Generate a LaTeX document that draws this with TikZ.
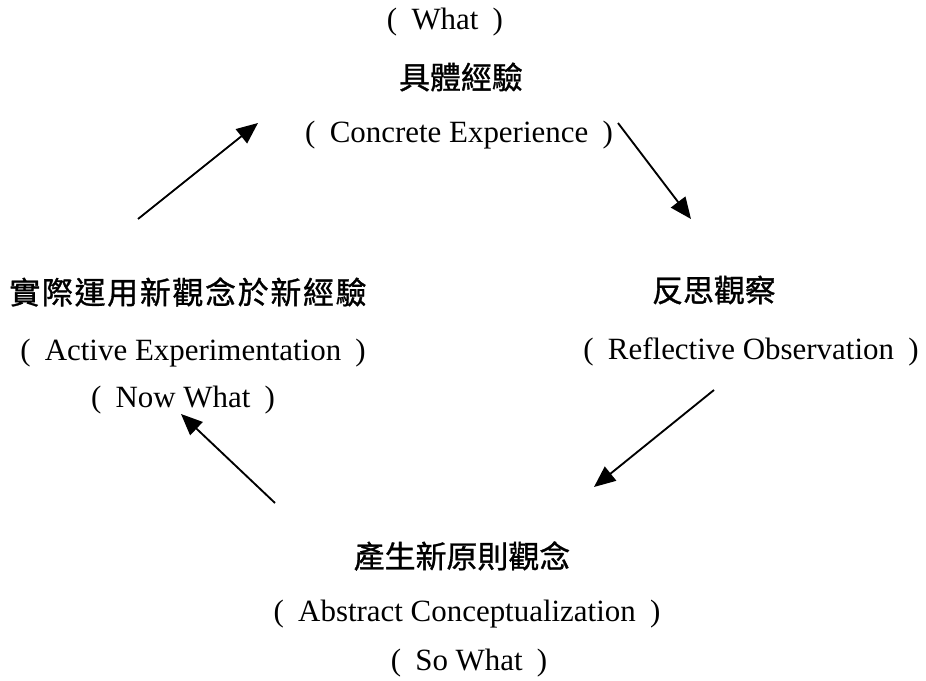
\documentclass[tikz,border=0pt]{standalone}
\usepackage{fontspec}
\setmainfont{Liberation Serif}
\newfontfamily\cjk[FakeBold=1]{Noto Sans CJK TC}
\newfontfamily\cjkwide[FakeBold=1,LetterSpace=5.5]{Noto Sans CJK TC}
\usetikzlibrary{arrows.meta}
\newcommand\wrp[1]{(\hspace{0.46em}#1\hspace{0.46em})}
\begin{document}
\begin{tikzpicture}[x=0.75pt,y=-0.75pt,
  en/.style={inner sep=0pt,anchor=center,font=\fontsize{23.2pt}{26pt}\selectfont},
  zh/.style={inner sep=0pt,anchor=center,font=\fontsize{23.2pt}{26pt}\cjk},
  cyc/.style={line width=1.4pt,-{Triangle[length=16pt,width=13.5pt]}}]
\path[use as bounding box] (0,0) rectangle (926,681);
% top
\node[en] (what) at (445,22) {\wrp{What}};
\node[zh] (ce) at (461,77) {具體經驗};
\node[en] (ceen) at (459,135) {\wrp{Concrete Experience}};
% right
\node[zh] (ro) at (714,290) {反思觀察};
\node[en] (roen) at (751,352) {\wrp{Reflective Observation}};
% bottom
\node[zh] (ac) at (462,556) {產生新原則觀念};
\node[en] (acen) at (467,614) {\wrp{Abstract Conceptualization}};
\node[en] (sowhat) at (469,663) {\wrp{So What}};
% left
\node[inner sep=0pt,anchor=center,font=\fontsize{23.2pt}{26pt}\cjkwide] (ae) at (188,292) {實際運用新觀念於新經驗};
\node[en] (aeen) at (193,353) {\wrp{Active Experimentation}};
\node[en] (nowwhat) at (183,400) {\wrp{Now What}};
% arrow end points
\coordinate (a1s) at (138,219);
\coordinate (a1e) at (258,123);
\coordinate (a2s) at (618,123);
\coordinate (a2e) at (691,219);
\coordinate (a3s) at (714,390);
\coordinate (a3e) at (594,487);
\coordinate (a4s) at (275,503);
\coordinate (a4e) at (181,414);
\draw[cyc] (a1s) -- (a1e);
\draw[cyc] (a2s) -- (a2e);
\draw[cyc] (a3s) -- (a3e);
\draw[cyc] (a4s) -- (a4e);
\end{tikzpicture}
\end{document}
